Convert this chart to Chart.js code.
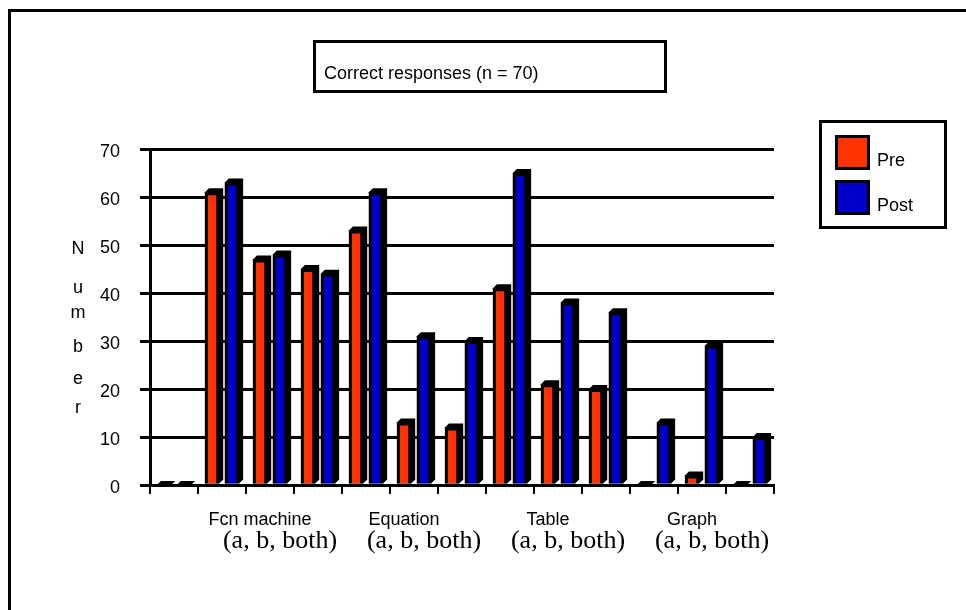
<!DOCTYPE html>
<html>
<head>
<meta charset="utf-8">
<script src="https://cdn.jsdelivr.net/npm/chart.js@4.4.1/dist/chart.umd.min.js"></script>
<style>
  html, body { margin: 0; padding: 0; background: #fff; }
  #c { position: absolute; left: 0; top: 0; }
</style>
</head>
<body>
<canvas id="c" width="966" height="610"></canvas>
<script>
// ---- data ----
const categories = ['', 'Fcn machine a', 'Fcn machine b', 'Fcn machine both',
  'Equation a', 'Equation b', 'Equation both',
  'Table a', 'Table b', 'Table both',
  'Graph a', 'Graph b', 'Graph both'];
const groupLabels = ['Fcn machine', 'Equation', 'Table', 'Graph'];
const groupSubLabel = '(a, b, both)';
const seriesNames = ['Pre', 'Post'];
const preValues  = [0, 61, 47, 45, 53, 13, 12, 41, 21, 20, 0, 2, 0];
const postValues = [0, 63, 48, 44, 61, 31, 30, 65, 38, 36, 13, 29, 10];
const yMin = 0, yMax = 70, yStep = 10;
const titleText = 'Correct responses (n = 70)';
const yAxisTitle = 'Number';

const RED = '#FF3300';
const BLUE = '#0000CC';
const SANS = '"Liberation Sans", Arial, sans-serif';
const SERIF = '"Liberation Serif", "Times New Roman", serif';
const DEPTH = 4;

const decor = {
  id: 'decor',
  beforeDatasetsDraw(chart) {
    // 3D extrusion behind each bar, from the bar elements' own geometry
    const ctx = chart.ctx;
    ctx.save();
    ctx.fillStyle = '#000';
    chart.data.datasets.forEach((ds, di) => {
      chart.getDatasetMeta(di).data.forEach(el => {
        const p = el.getProps(['x', 'y', 'base', 'width'], true);
        const l = p.x - p.width / 2, r = p.x + p.width / 2;
        const t = Math.min(p.y, p.base), b = Math.max(p.y, p.base);
        ctx.beginPath();
        ctx.moveTo(l, t);
        ctx.lineTo(l + DEPTH, t - DEPTH);
        ctx.lineTo(r + DEPTH, t - DEPTH);
        ctx.lineTo(r + DEPTH, b - DEPTH);
        ctx.lineTo(r, b);
        ctx.lineTo(l, b);
        ctx.closePath();
        ctx.fill();
      });
    });
    ctx.restore();
  },
  afterDraw(chart) {
    const ctx = chart.ctx;
    const xs = chart.scales.x;
    const area = chart.chartArea;
    ctx.save();
    ctx.strokeStyle = '#000';
    ctx.fillStyle = '#000';
    ctx.lineWidth = 3;
    // outer frame
    ctx.beginPath();
    ctx.moveTo(9.5, 640); ctx.lineTo(9.5, 10.5); ctx.lineTo(990, 10.5);
    ctx.stroke();
    // title box
    ctx.strokeRect(314.5, 41.5, 351, 50);
    ctx.font = '18px ' + SANS;
    ctx.textAlign = 'left';
    ctx.textBaseline = 'alphabetic';
    ctx.fillText(titleText, 324, 79);
    // legend
    ctx.strokeRect(820.5, 121.5, 125, 106);
    chart.data.datasets.forEach((ds, i) => {
      const top = 135 + i * 45;
      ctx.fillStyle = ds.backgroundColor;
      ctx.fillRect(836, top + 1, 33, 33);
      ctx.strokeStyle = '#000';
      ctx.strokeRect(836.5, top + 1.5, 32, 32);
      ctx.fillStyle = '#000';
      ctx.font = '18px ' + SANS;
      ctx.fillText(ds.label, 877, top + 31);
    });
    // y axis title, stacked letters
    const letterBase = [254, 293, 318, 352, 384, 413];
    ctx.textAlign = 'center';
    ctx.font = '18px ' + SANS;
    yAxisTitle.split('').forEach((ch, i) => {
      ctx.fillText(ch, 78, letterBase[i]);
    });
    // group labels under the x axis
    groupLabels.forEach((g, i) => {
      const cx = xs.getPixelForValue(2 + 3 * i);
      ctx.font = '18px ' + SANS;
      ctx.fillText(g, cx - 10, area.bottom + 40);
      ctx.font = '26px ' + SERIF;
      ctx.fillText(groupSubLabel, cx + 10, area.bottom + 63);
    });
    ctx.restore();
  }
};

new Chart(document.getElementById('c'), {
  type: 'bar',
  data: {
    labels: categories,
    datasets: [
      { label: seriesNames[0], data: preValues, backgroundColor: RED,
        borderColor: '#000', borderWidth: 3, borderSkipped: 'start' },
      { label: seriesNames[1], data: postValues, backgroundColor: BLUE,
        borderColor: '#000', borderWidth: 3, borderSkipped: 'start' }
    ]
  },
  options: {
    responsive: false,
    animation: false,
    devicePixelRatio: 1,
    layout: { padding: { left: 60, top: 149, right: 192, bottom: 115 } },
    datasets: { bar: { categoryPercentage: 0.83, barPercentage: 0.72 } },
    plugins: { legend: { display: false }, tooltip: { enabled: false }, title: { display: false } },
    scales: {
      x: {
        type: 'category',
        offset: true,
        ticks: { display: false },
        grid: { offset: true, drawOnChartArea: false, drawTicks: true, tickLength: 9, color: '#000', lineWidth: 2 },
        border: { display: true, color: '#000', width: 3 },
        afterFit(scale) { scale.height = 10; }
      },
      y: {
        min: yMin, max: yMax,
        ticks: { stepSize: yStep, color: '#000', font: { family: SANS, size: 18 }, padding: 20, labelOffset: 3 },
        grid: { color: '#000', lineWidth: 3, tickLength: 10 },
        border: { display: true, color: '#000', width: 3 },
        afterFit(scale) { scale.width = 90; }
      }
    }
  },
  plugins: [decor]
});
</script>
</body>
</html>
